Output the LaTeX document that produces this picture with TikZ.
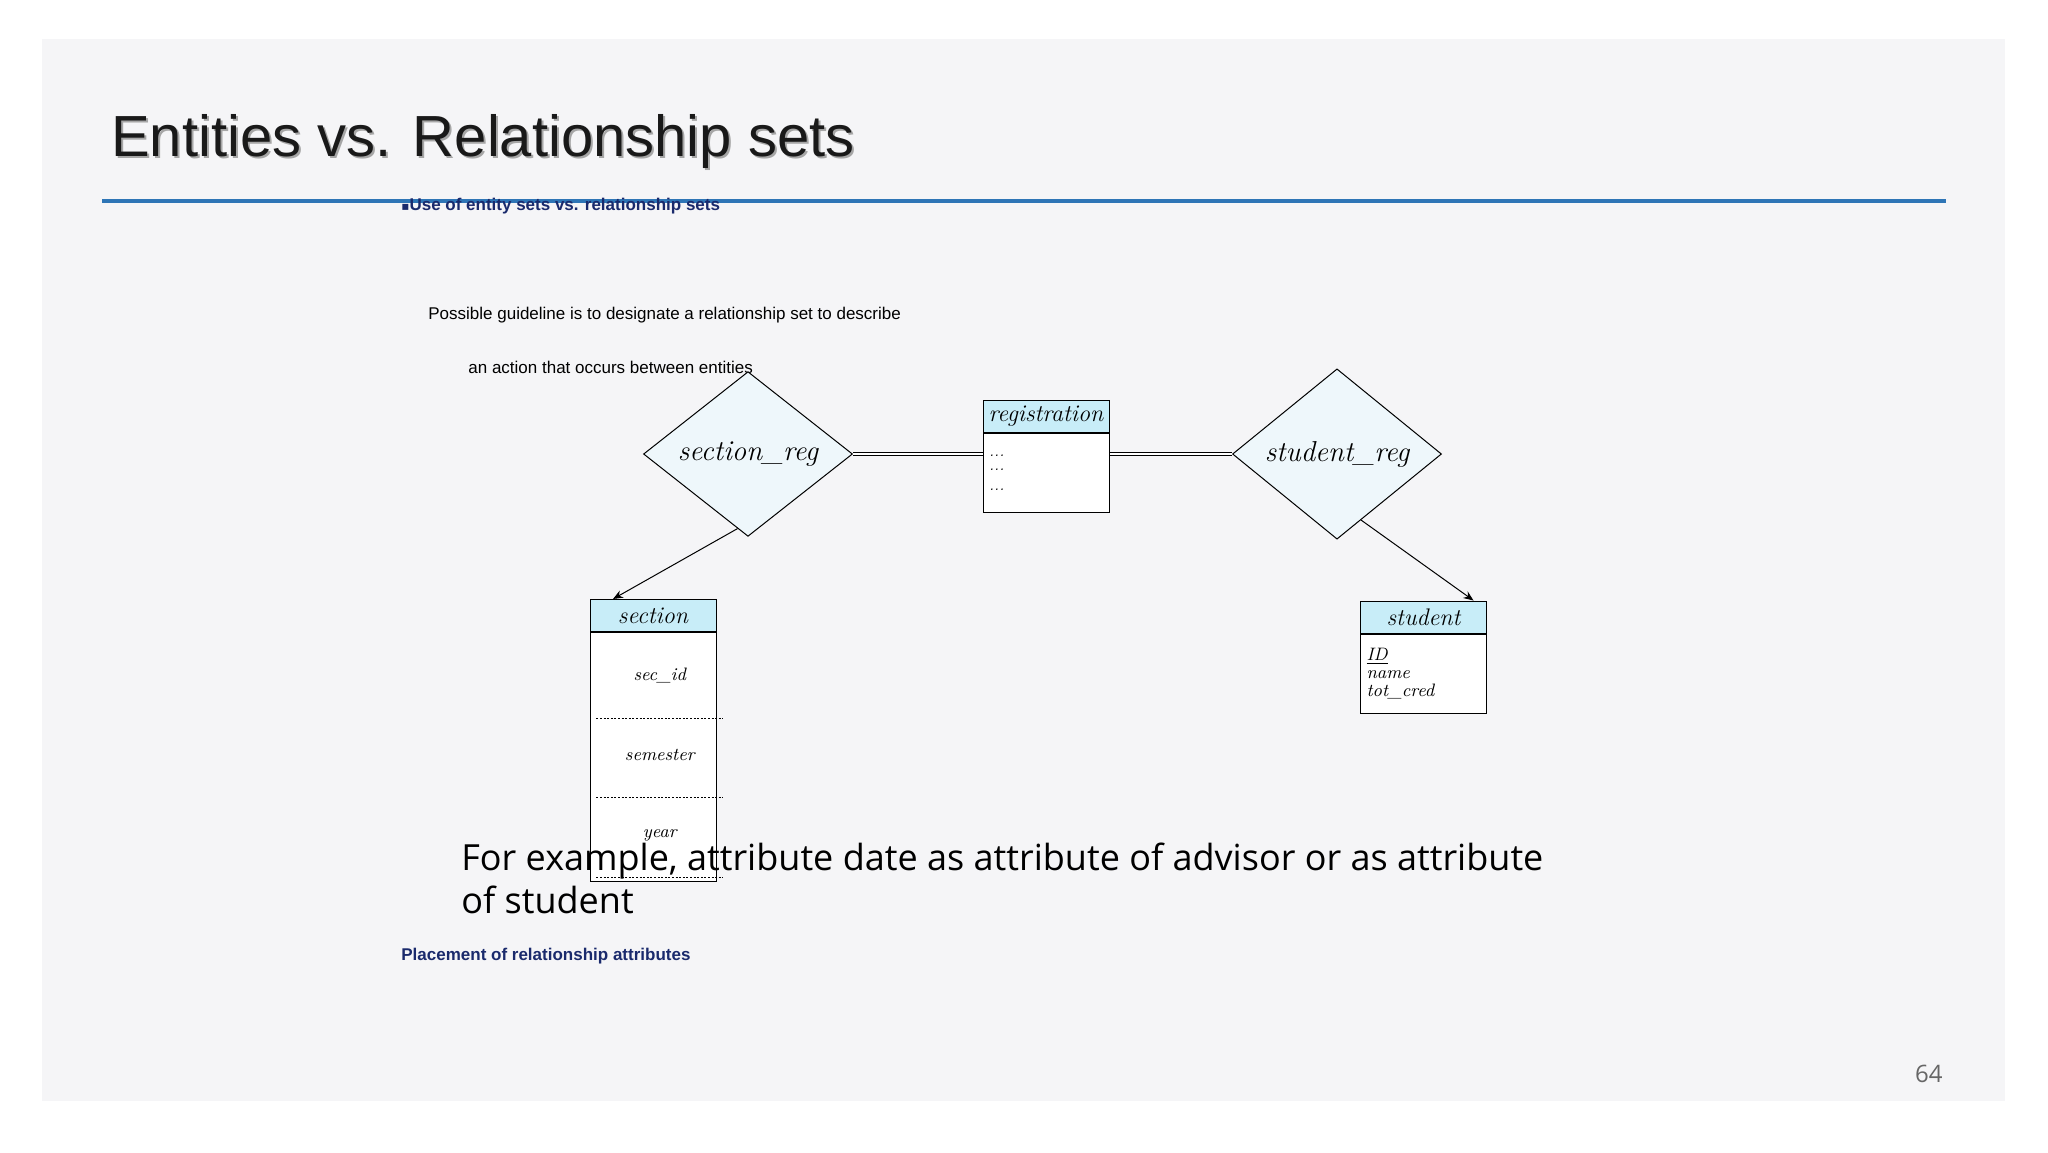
\documentclass[tikz,border=0pt]{standalone}
\usepackage{fontspec}
\setmainfont{Latin Modern Roman}
\newfontfamily\arialf{Liberation Sans}
\newfontfamily\dejavuf{DejaVu Sans}
\newfontfamily\segoef{Open Sans}
\usetikzlibrary{shapes.geometric,arrows.meta}
\definecolor{slidebg}{HTML}{F5F5F7}
\definecolor{bluel}{HTML}{2E75B6}
\definecolor{navy}{HTML}{1A2A6C}
\definecolor{hdrfill}{HTML}{C8EDF8}
\definecolor{dfill}{HTML}{EEF7FB}
\tikzset{
  rel/.style={diamond,draw,fill=dfill,line width=0.5pt,minimum width=104.5pt,minimum height=68.5pt,inner sep=0pt,font=\Large\itshape},
  hdr/.style={draw,fill=hdrfill,line width=0.5pt,minimum width=63pt,minimum height=16pt,inner sep=0pt,font=\large\itshape},
  bodyb/.style={draw,fill=white,line width=0.5pt,minimum width=63pt,inner sep=2pt,anchor=north,align=left,text width=57pt,font=\small\itshape},
  dbl/.style={double,double distance=1.4pt,line width=0.5pt},
  arr/.style={-{Stealth[length=5pt,width=4pt]},line width=0.5pt},
}
\newcommand{\dul}[1]{\tikz[baseline=(u.base)]{\node[inner sep=0pt](u){#1};\draw[line width=0.4pt,dash pattern=on 1pt off 0.8pt]([yshift=-1.5pt]u.south west)--([yshift=-1.5pt]u.south east);}}
\begin{document}
\begin{tikzpicture}[x=0.5pt,y=-0.5pt]
\useasboundingbox (0,0) rectangle (2048,1152);
\fill[white] (0,0) rectangle (2048,1152);
\fill[slidebg] (42,39) rectangle (2005,1101);
\node[anchor=west,text=black!35,font=\arialf\fontsize{29}{34}\selectfont] (tsh) at (106,143) {Entities vs. Relationship sets};
\node[anchor=west,text=black!90,font=\arialf\fontsize{29}{34}\selectfont] (title) at (104,141) {Entities vs. Relationship sets};
\draw[bluel,line width=2pt] (102,201) -- (1946,201);
\node[anchor=west,inner sep=0pt,text=navy,font=\arialf\bfseries\fontsize{8.5}{10}\selectfont] (t1) at (401,206) {{\dejavuf\fontsize{6}{7}\selectfont ▪}Use of entity sets vs. relationship sets};
\node[anchor=west,inner sep=0pt,font=\arialf\fontsize{8.5}{10}\selectfont] (t2) at (428,315) {Possible guideline is to designate a relationship set to describe};
\node[anchor=west,inner sep=0pt,font=\arialf\fontsize{8.5}{10}\selectfont] (t3) at (468,367) {an action that occurs between entities};

\node[rel] (sr) at (748,454) {section\_reg};
\node[rel] (str) at (1337,454) {student\_reg};

\node[hdr] (regh) at (1046,416) {registration};
\node[bodyb,minimum height=39.5pt] (regb) at (regh.south) {\scriptsize ...\\[-1pt]\scriptsize ...\\[-1pt]\scriptsize ...};

\node[hdr] (sech) at (653,615.5) {section};
\node[bodyb,minimum height=39pt] (secb) at (sech.south) {\dul{sec\_id}\\[-2pt]\dul{semester}\\[-2pt]\dul{year}};

\node[hdr] (stuh) at (1423.5,617) {student};
\node[bodyb,minimum height=39.5pt] (stub) at (stuh.south) {\underline{ID}\\[-2pt]name\\[-2pt]tot\_cred};

\draw[dbl] (sr.east) -- (sr.east -| regb.west);
\draw[dbl] (str.west) -- (str.west -| regb.east);
\draw[arr] (sr.262) -- ([xshift=-20]sech.north);
\draw[arr] (str.290) -- ([xshift=25]stuh.north);

\node[anchor=north west,inner sep=0pt,align=left,font=\segoef\fontsize{18}{21.5}\selectfont] (t4) at (461,843) {For example, attribute date as attribute of advisor or as attribute\\of student};
\node[anchor=west,inner sep=0pt,text=navy,font=\arialf\bfseries\fontsize{8.5}{10}\selectfont] (t5) at (401,956) {Placement of relationship attributes};
\node[anchor=east,inner sep=0pt,text=black!60,font=\segoef\fontsize{12}{14}\selectfont] (pg) at (1943,1074) {64};
\end{tikzpicture}
\end{document}
